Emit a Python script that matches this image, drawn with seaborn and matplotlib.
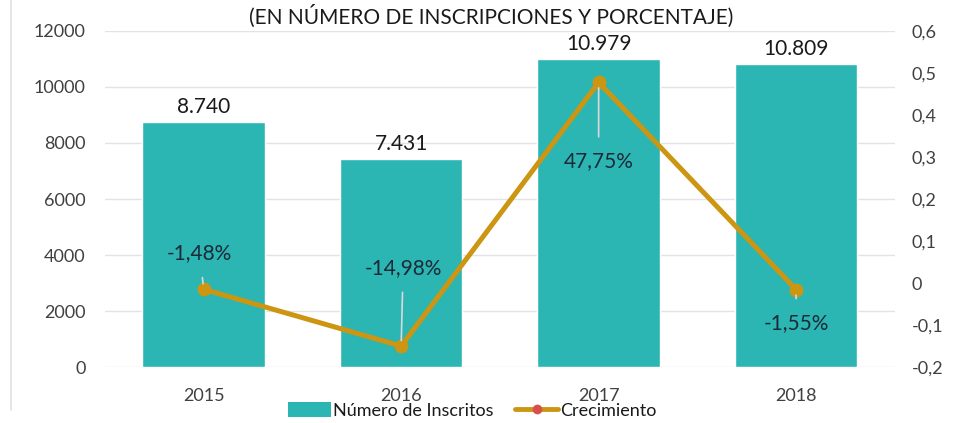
import numpy as np
import pandas as pd
import seaborn as sns
import matplotlib.pyplot as plt
from matplotlib.lines import Line2D
from matplotlib.patches import Patch
from matplotlib.ticker import FuncFormatter, MultipleLocator

# Datos
years = ["2015", "2016", "2017", "2018"]
inscritos = [8740, 7431, 10979, 10809]
crecimiento = [-0.0148, -0.1498, 0.4775, -0.0155]
title_text = "(EN NÚMERO DE INSCRIPCIONES Y PORCENTAJE)"

bar_color = "#2BB5B3"
line_color = "#CC9612"
marker_legend = "#D8504A"
tick_color = "#404040"

sns.set_theme(style="white")
plt.rcParams["font.family"] = ["Lato", "DejaVu Sans"]

fig = plt.figure(figsize=(9.54, 4.23), dpi=100)
ax = fig.add_axes([0.110, 0.132, 0.828, 0.795])

df = pd.DataFrame({"year": years, "inscritos": inscritos, "crec": crecimiento})
sns.barplot(data=df, x="year", y="inscritos", color=bar_color, width=0.62,
            saturation=1, ax=ax, zorder=2)

ax.set_ylim(0, 12000)
ax.set_xlim(-0.5, 3.5)
ax.yaxis.set_major_locator(MultipleLocator(2000))
ax.grid(axis="y", color="#E3E3E3", linewidth=1, zorder=0)
ax.set_axisbelow(True)
for s in ax.spines.values():
    s.set_visible(False)
ax.set_xlabel("")
ax.set_ylabel("")
ax.tick_params(axis="both", length=0, labelsize=13, colors=tick_color, pad=14)
ax.tick_params(axis="x", pad=15)

# Etiquetas de las barras (separador de miles con punto)
for i, v in enumerate(inscritos):
    ax.text(i, v + 180, f"{v:,}".replace(",", "."), ha="center", va="bottom",
            fontsize=15, color="#1A1A1A")

# Eje secundario: crecimiento
ax2 = ax.twinx()
sns.lineplot(x=np.arange(len(years)), y=crecimiento, color=line_color,
             linewidth=3.6, marker="o", markersize=10, markeredgewidth=0,
             markerfacecolor=line_color, ax=ax2, zorder=3)
ax2.set_ylim(-0.2, 0.6)
ax2.yaxis.set_major_locator(MultipleLocator(0.1))
ax2.yaxis.set_major_formatter(FuncFormatter(
    lambda v, p: (f"{v:.1f}".replace(".", ",") if abs(v) > 1e-9 else "0")))
ax2.tick_params(axis="y", length=0, labelsize=13, colors=tick_color, pad=12)
ax2.grid(False)
for s in ax2.spines.values():
    s.set_visible(False)
ax2.set_ylabel("")

# Etiquetas de porcentaje con líneas guía (desplazamiento respecto al punto)
label_offsets = [(-0.02, 0.071), (0.01, 0.036), (0.0, 0.29), (0.0, -0.095)]
for i, (val, (dx, ly)) in enumerate(zip(crecimiento, label_offsets)):
    txt = f"{val * 100:.2f}%".replace(".", ",")
    ax2.annotate(txt, xy=(i, val), xytext=(i + dx, ly), textcoords="data",
                 ha="center", va="center", fontsize=15, color="#1C2A38",
                 arrowprops=dict(arrowstyle="-", color="#DADADA", lw=1.2,
                                 shrinkA=8, shrinkB=4),
                 zorder=4)

# Título
fig.text(0.515, 0.962, title_text, ha="center", va="center", fontsize=15,
         color="#1A1A1A")

# Borde vertical izquierdo
fig.add_artist(Line2D([0.0115, 0.0115], [0.03, 1.0], color="#E0E0E0", lw=1.2))

# Leyenda
handles = [
    Patch(facecolor=bar_color, edgecolor="none", label="Número de Inscritos"),
    Line2D([0], [0], color=line_color, lw=3.5, marker="o", markersize=7,
           markerfacecolor=marker_legend, markeredgewidth=0, label="Crecimiento"),
]
fig.legend(handles=handles, loc="center", bbox_to_anchor=(0.495, 0.03), ncol=2,
           frameon=False, fontsize=13, handlelength=2.4, handleheight=0.9,
           handletextpad=0.1, columnspacing=1.2, labelcolor="#1A1A1A")

fig.savefig("out.png", dpi=100)
